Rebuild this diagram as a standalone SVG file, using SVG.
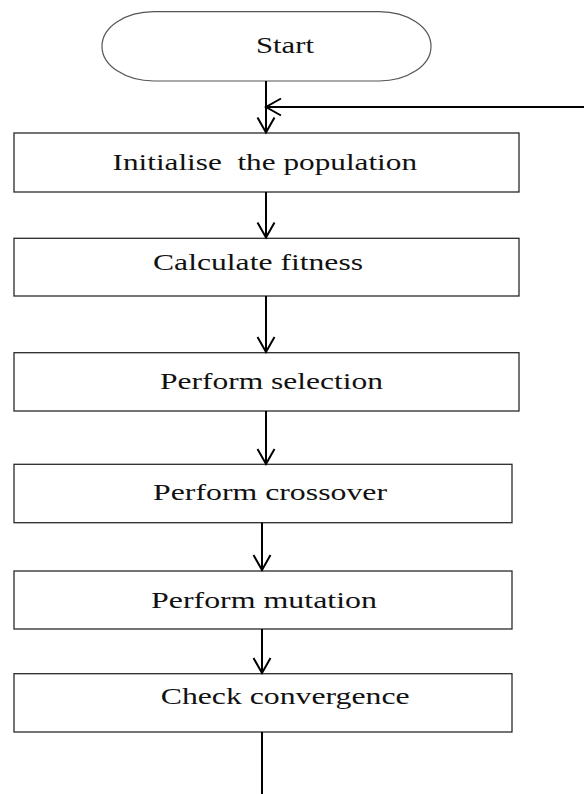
<svg xmlns="http://www.w3.org/2000/svg" width="584" height="794" viewBox="0 0 584 794">
  <style>
    .box { fill: #ffffff; stroke: #2a2a2a; stroke-width: 1.3; }
    .term { fill: #ffffff; stroke: #555555; stroke-width: 1.2; }
    .lbl { font-family: "Liberation Serif", "Times New Roman", serif; font-size: 24px; fill: #111111; }
    .conn { fill: none; stroke: #000000; stroke-width: 2; }
  </style>
  <defs>
    <marker id="arrow" markerUnits="userSpaceOnUse" markerWidth="20" markerHeight="22" viewBox="-17 -11 19 22" refX="0" refY="0" orient="auto">
      <path d="M-15,-8.5 L0,0 L-15,8.5" fill="none" stroke="#000000" stroke-width="2"/>
    </marker>
  </defs>
  <rect width="584" height="794" fill="#ffffff"/>

  <g id="start">
    <rect class="term" x="102" y="11.7" width="329" height="69.3" rx="52" ry="34.6"/>
    <text class="lbl" transform="translate(256,53) scale(1.32,1)" x="0" y="0" textLength="43.9" lengthAdjust="spacingAndGlyphs">Start</text>
  </g>

  <g id="init">
    <rect class="box" x="14" y="133" width="505" height="59"/>
    <text class="lbl" transform="translate(112.5,170) scale(1.32,1)" x="0" y="0" textLength="230.7" lengthAdjust="spacingAndGlyphs" xml:space="preserve">Initialise  the population</text>
  </g>

  <g id="fitness">
    <rect class="box" x="14" y="238.3" width="505" height="57.7"/>
    <text class="lbl" transform="translate(153,270) scale(1.32,1)" x="0" y="0" textLength="159.1" lengthAdjust="spacingAndGlyphs">Calculate fitness</text>
  </g>

  <g id="selection">
    <rect class="box" x="14" y="352.7" width="505" height="58.3"/>
    <text class="lbl" transform="translate(160,389) scale(1.32,1)" x="0" y="0" textLength="168.9" lengthAdjust="spacingAndGlyphs">Perform selection</text>
  </g>

  <g id="crossover">
    <rect class="box" x="14" y="464.3" width="498" height="58.4"/>
    <text class="lbl" transform="translate(153,500) scale(1.32,1)" x="0" y="0" textLength="177.3" lengthAdjust="spacingAndGlyphs">Perform crossover</text>
  </g>

  <g id="mutation">
    <rect class="box" x="14" y="571" width="498" height="58"/>
    <text class="lbl" transform="translate(151,607.7) scale(1.32,1)" x="0" y="0" textLength="171.2" lengthAdjust="spacingAndGlyphs">Perform mutation</text>
  </g>

  <g id="convergence">
    <rect class="box" x="14" y="673.7" width="498" height="58.3"/>
    <text class="lbl" transform="translate(160.7,703.5) scale(1.32,1)" x="0" y="0" textLength="188.6" lengthAdjust="spacingAndGlyphs">Check convergence</text>
  </g>

  <g id="connectors">
    <line class="conn" x1="266" y1="81" x2="266" y2="132.5" marker-end="url(#arrow)"/>
    <line class="conn" x1="584" y1="107" x2="266" y2="107" marker-end="url(#arrow)"/>
    <line class="conn" x1="266" y1="192" x2="266" y2="237.5" marker-end="url(#arrow)"/>
    <line class="conn" x1="266" y1="296" x2="266" y2="352" marker-end="url(#arrow)"/>
    <line class="conn" x1="266" y1="411" x2="266" y2="464" marker-end="url(#arrow)"/>
    <line class="conn" x1="262" y1="522.7" x2="262" y2="570" marker-end="url(#arrow)"/>
    <line class="conn" x1="262" y1="629" x2="262" y2="673" marker-end="url(#arrow)"/>
    <line class="conn" x1="262" y1="732" x2="262" y2="794"/>
  </g>
</svg>
